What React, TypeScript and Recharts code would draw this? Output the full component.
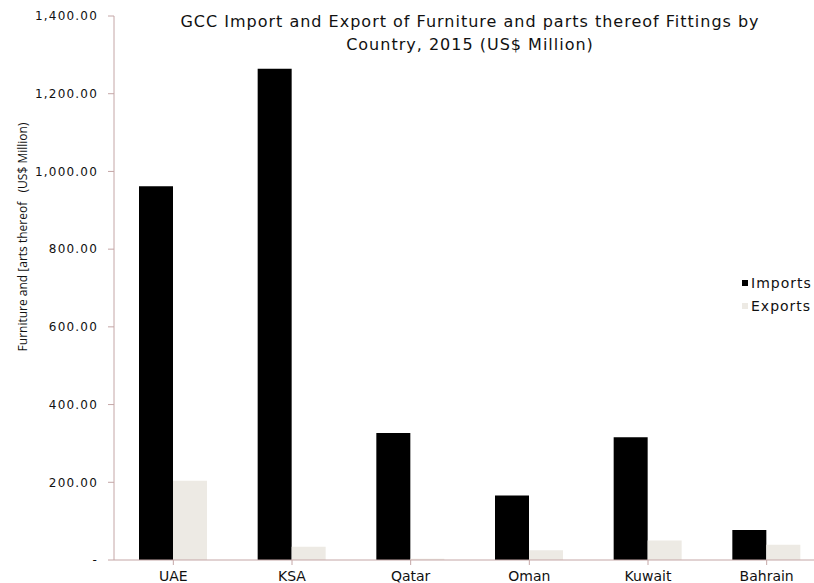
import { BarChart, Bar, XAxis, YAxis, Legend } from 'recharts'

const countries = ['UAE', 'KSA', 'Qatar', 'Oman', 'Kuwait', 'Bahrain']
const imports = [962, 1264, 327, 166, 316, 77]
const exports = [204, 34, 3, 25, 50, 39]
const yTicks = [0, 200, 400, 600, 800, 1000, 1200, 1400]

const data = countries.map((c, i) => ({ country: c, imports: imports[i], exports: exports[i] }))

const axisColor = '#c4a6a6'

function fmt(v: number) {
  if (v === 0) return '-'
  return v.toLocaleString('en-US', { minimumFractionDigits: 2, maximumFractionDigits: 2 })
}

function LegendBox() {
  const items = [
    { label: 'Imports', color: '#000000' },
    { label: 'Exports', color: '#edeae4' },
  ]
  return (
    <div style={{ fontFamily: 'DejaVu Sans', fontSize: '14px', letterSpacing: '1px', color: '#111' }}>
      {items.map((it) => (
        <div key={it.label} style={{ display: 'flex', alignItems: 'center', height: '23px' }}>
          <span style={{ width: '6px', height: '6px', backgroundColor: it.color, marginRight: '3px' }} />
          {it.label}
        </div>
      ))}
    </div>
  )
}

export default function App() {
  return (
    <div style={{ position: 'absolute', left: 0, top: 0, width: '814px', height: '583px', overflow: 'hidden', background: '#fff' }}>
      <div
        style={{
          position: 'absolute',
          left: '114px',
          width: '712px',
          top: '10px',
          textAlign: 'center',
          fontFamily: 'DejaVu Sans',
          fontSize: '16px',
          letterSpacing: '1px',
          lineHeight: '23px',
          color: '#111',
        }}
      >
        GCC Import and Export of Furniture and parts thereof Fittings by
        <br />
        Country, 2015 (US$ Million)
      </div>
      <div
        style={{
          position: 'absolute',
          left: '22px',
          top: '237px',
          transform: 'translate(-50%, -50%) rotate(-90deg)',
          whiteSpace: 'pre',
          fontFamily: 'Open Sans',
          fontSize: '12px',
          color: '#111',
        }}
      >
        {'Furniture and [arts thereof   (US$ Million)'}
      </div>
      <BarChart
        width={826}
        height={583}
        data={data}
        margin={{ top: 16, right: 0, bottom: 0, left: 0 }}
        barSize={34}
        barGap={0}
      >
        <XAxis
          dataKey="country"
          height={23}
          stroke={axisColor}
          tickSize={5}
          tickMargin={6}
          tick={{ fill: '#111', fontSize: 14, fontFamily: 'DejaVu Sans' }}
        />
        <YAxis
          width={114}
          domain={[0, 1400]}
          ticks={yTicks}
          tickFormatter={fmt}
          stroke={axisColor}
          tickSize={6}
          tickMargin={10}
          interval={0}
          tick={{ fill: '#111', fontSize: 12, fontFamily: 'DejaVu Sans', letterSpacing: 1.2 }}
        />
        <Legend
          layout="horizontal"
          verticalAlign="middle"
          align="center"
          content={() => <LegendBox />}
          wrapperStyle={{ position: 'absolute', left: '742px', top: '271px', width: '80px' }}
        />
        <Bar dataKey="imports" name="Imports" fill="#000000" isAnimationActive={false} />
        <Bar dataKey="exports" name="Exports" fill="#edeae4" isAnimationActive={false} />
      </BarChart>
    </div>
  )
}
